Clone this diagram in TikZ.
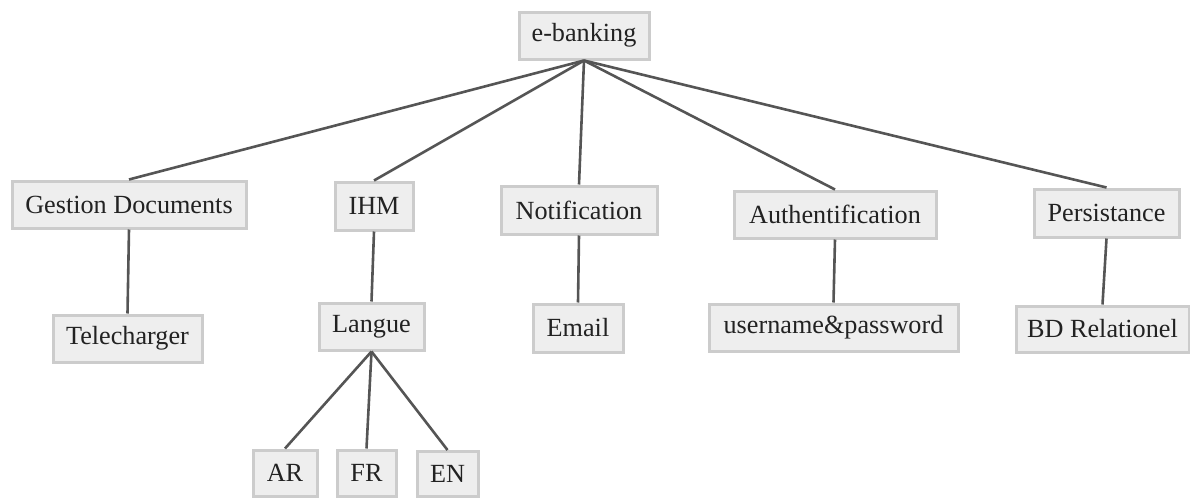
\documentclass[tikz,border=0pt]{standalone}
\usepackage{fontspec}
\newfontfamily\treefont{Liberation Serif}
\definecolor{boxfill}{HTML}{EEEEEE}
\definecolor{boxline}{HTML}{CCCCCC}
\definecolor{edgecol}{HTML}{555555}
\definecolor{txt}{HTML}{222222}
\begin{document}
\begin{tikzpicture}[x=0.5pt,y=-0.5pt,
  box/.style={draw=boxline,fill=boxfill,line width=1.5pt,inner sep=0pt,
    text=txt,font=\treefont\fontsize{13.1}{15}\selectfont,anchor=center},
  link/.style={draw=edgecol,line width=1.3pt}]
\useasboundingbox (0,0) rectangle (1190,498);

% nodes: centre position and box size in layout units
\newcommand{\tbox}[6]{\node[box,minimum width=#4*0.5pt,minimum height=#5*0.5pt] (#1) at (#2,#3) {#6};}

\tbox{root}{584}{35.5}{130}{47}{e-banking}
\tbox{gest}{129}{204.5}{234}{47}{Gestion Documents}
\tbox{tele}{127.5}{338.5}{149}{47}{Telecharger}
\tbox{ihm}{374}{206}{78}{48}{IHM}
\tbox{lang}{371.5}{326.5}{105}{47}{Langue}
\tbox{ar}{285}{473}{64}{46}{AR}
\tbox{fr}{366.5}{473}{59}{46}{FR}
\tbox{en}{447.5}{474}{61}{45}{EN}
\tbox{notif}{579}{210}{156}{48}{Notification}
\tbox{email}{578}{328}{90}{48}{Email}
\tbox{auth}{835}{214.5}{202}{47}{Authentification}
\tbox{user}{833.5}{327.5}{249}{47}{username\&password}
\tbox{pers}{1106.5}{213}{145}{48}{Persistance}
\tbox{bd}{1102.5}{329}{173}{46}{BD Relationel}

% connectors from each parent to its children
\draw[link] (root.south) -- (gest.north);
\draw[link] (root.south) -- (ihm.north);
\draw[link] (root.south) -- (notif.north);
\draw[link] (root.south) -- (auth.north);
\draw[link] (root.south) -- (pers.north);
\draw[link] (gest.south) -- (tele.north);
\draw[link] (ihm.south) -- (lang.north);
\draw[link] (lang.south) -- (ar.north);
\draw[link] (lang.south) -- (fr.north);
\draw[link] (lang.south) -- (en.north);
\draw[link] (notif.south) -- (email.north);
\draw[link] (auth.south) -- (user.north);
\draw[link] (pers.south) -- (bd.north);
\end{tikzpicture}
\end{document}
